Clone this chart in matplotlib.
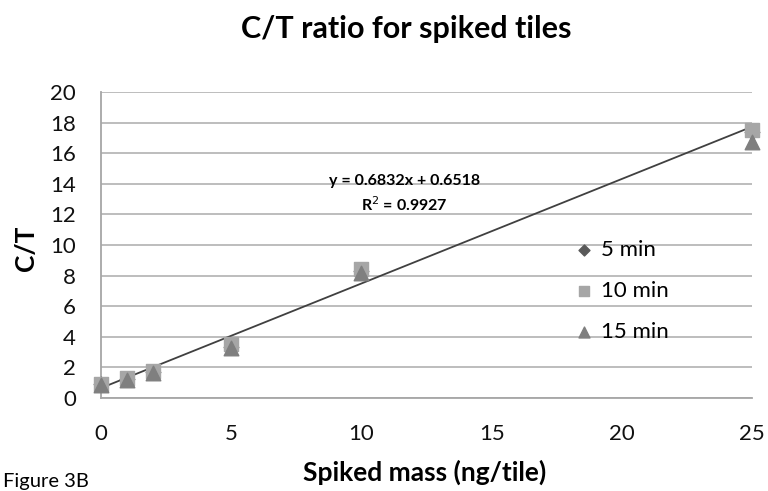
import matplotlib
matplotlib.use("Agg")
import matplotlib.pyplot as plt
import numpy as np

plt.rcParams['font.family'] = ['Lato', 'DejaVu Sans']

# Data
mass = [0, 1, 2, 5, 10, 25]
ct_5min = [0.90, 1.25, 1.70, 3.35, 8.30, 17.40]
ct_10min = [0.92, 1.30, 1.75, 3.50, 8.45, 17.50]
ct_15min = [0.88, 1.20, 1.65, 3.30, 8.20, 16.70]
series_labels = ["5 min", "10 min", "15 min"]
slope = 0.6832
intercept = 0.6518
r2 = 0.9927
x_ticks = [0, 5, 10, 15, 20, 25]
y_ticks = list(range(0, 21, 2))

fig = plt.figure(figsize=(7.68, 4.91), dpi=100)
ax = fig.add_axes([101/768, 1 - 398/491, 651/768, 306/491])

ax.set_xlim(0, 25)
ax.set_ylim(0, 20)
ax.set_xticks(x_ticks)
ax.set_yticks(y_ticks)
ax.grid(axis='y', color='#b8b8b8', linewidth=1.3)
ax.set_axisbelow(True)
for s in ['top', 'right']:
    ax.spines[s].set_visible(False)
ax.spines['left'].set_color('#a6a6a6')
ax.spines['bottom'].set_color('#a6a6a6')
ax.spines['left'].set_linewidth(1.3)
ax.spines['bottom'].set_linewidth(1.3)
ax.tick_params(axis='both', length=0, labelsize=16, colors='#111111')
ax.tick_params(axis='x', pad=19)
ax.tick_params(axis='y', pad=18)

# trendline
xs = np.array([mass[0], mass[-1]])
ax.plot(xs, slope * xs + intercept, color='#404040', linewidth=1.3, zorder=2)

ax.scatter(mass, ct_5min, marker='D', s=55, color='#595959', label=series_labels[0], zorder=3, clip_on=False)
ax.scatter(mass, ct_10min, marker='s', s=110, color='#a6a6a6', label=series_labels[1], zorder=3, clip_on=False)
ax.scatter(mass, ct_15min, marker='^', s=110, color='#7f7f7f', label=series_labels[2], zorder=4, clip_on=False)

ax.text((404.5 - 101) / 651, (398 - 194) / 306, f"y = {slope}x + {intercept}\nR$^2$ = {r2}",
        transform=ax.transAxes, ha='center', va='center', fontsize=11.5, fontweight='bold',
        linespacing=1.45)

leg = ax.legend(loc='center left', bbox_to_anchor=((575 - 101) / 651, (398 - 291) / 306),
                frameon=False, fontsize=16, handletextpad=0.35, labelspacing=0.95,
                handlelength=0.8, markerscale=0.75, borderpad=0, borderaxespad=0)

fig.text(425/768, 1 - 481/491, "Spiked mass (ng/tile)", ha='center', va='baseline',
         fontsize=19, fontweight='bold')
fig.text(26/768, 1 - 248/491, "C/T", ha='center', va='center', rotation=90,
         fontsize=19, fontweight='bold')
fig.text(406/768, 1 - 38/491, "C/T ratio for spiked tiles", ha='center', va='baseline',
         fontsize=22, fontweight='bold')
fig.text(3/768, 1 - 487/491, "Figure 3B", ha='left', va='baseline', fontsize=14.5)

fig.savefig("out.png", dpi=100)
